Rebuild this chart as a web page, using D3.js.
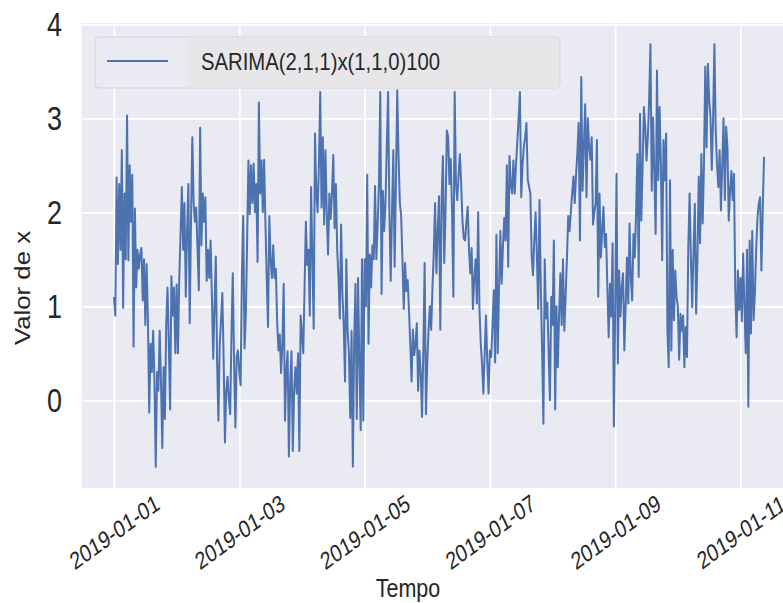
<!DOCTYPE html>
<html>
<head>
<meta charset="utf-8">
<script src="https://cdn.jsdelivr.net/npm/d3@7"></script>
<style>
  body { margin: 0; background: #ffffff; }
  svg text { font-family: "Liberation Sans", Arial, sans-serif; fill: #262626; }
</style>
</head>
<body>
<svg id="chart" width="783" height="603"></svg>
<script>
// Series: simulated SARIMA output sampled every 30 minutes from 2019-01-01 00:00
const seriesName = "SARIMA(2,1,1)x(1,1,0)100";
const startTime = "2019-01-01 00:00";
const stepMinutes = 30;
const values = [
  1.1, 0.9, 2.37, 1.45, 2.3, 1.6, 2.66, 0.98, 2.2, 1.5,
  3.03, 1.49, 2.5, 1.9, 2.4, 0.57, 2.04, 1.2, 1.6, 1.4,
  1.55, 1.62, 1.06, 1.5, 0.8, 1.45, 0.85, -0.13, 0.6, 0.3,
  0.74, 0.2, -0.71, 0.3, 0.1, 0.74, 0.2, -0.51, 0.35, -0.2,
  0.8, 1.2, 0.6, -0.1, 1.32, 0.9, 1.2, 0.5, 1.23, 0.5,
  1.3, 1.77, 2.27, 1.6, 2.1, 1.1, 1.8, 2.3, 0.82, 1.9,
  2.8, 2.1, 1.9, 2.05, 1.6, 1.17, 2.9, 1.65, 2.2, 1.9,
  2.16, 1.27, 1.6, 1.3, 1.7, 1.1, 0.44, 1.0, 1.53, 0.4,
  -0.22, 0.6, 0.85, 1.14, 0.44, -0.45, 0.1, 0.25, 0.0, -0.15,
  0.7, 1.35, 0.4, -0.29, 0.47, 0.53, 0.3, 0.16, 1.35, 1.96,
  0.55, 0.9, 1.7, 2.55, 1.98, 2.5, 2.1, 2.52, 2.0, 2.3,
  1.47, 3.17, 2.2, 2.55, 2.0, 2.56, 1.9, 1.3, 0.78, 1.96,
  1.5, 1.3, 1.65, 1.3, 1.4, 0.84, 0.53, 0.7, 0.29, 0.6,
  1.24, -0.22, 0.3, 0.52, -0.6, 0.2, 0.52, -0.54, 0.1, 0.35,
  0.07, 0.5, -0.54, 0.9, 0.7, 0.5, 1.2, 1.9, 1.44, 1.6,
  0.9, 2.27, 1.5, 0.76, 2.84, 2.2, 2.0, 2.5, 3.28, 2.05,
  2.8, 1.87, 2.66, 2.0, 1.55, 2.2, 1.93, 2.2, 2.61, 1.83,
  2.3, 1.6, 1.3, 0.87, 1.87, 1.13, 0.8, 0.2, 1.5, 0.74,
  0.5, -0.19, 0.74, -0.71, 0.6, 1.24, -0.2, 1.3, 0.4, -0.32,
  1.5, -0.22, 1.5, 1.0, 2.4, 0.6, 1.55, 1.2, 1.65, 1.5,
  2.28, 1.5, 1.87, 2.3, 3.28, 1.13, 2.23, 1.8, 2.1, 2.7,
  3.28, 2.0, 1.27, 2.0, 2.66, 1.42, 2.3, 3.3, 2.6, 2.1,
  1.96, 1.5, 0.97, 1.46, 1.16, 1.28, 0.96, 0.6, 0.2, 0.75,
  0.48, 0.6, 0.82, 0.1, 0.53, 0.3, -0.18, 0.53, 1.46, -0.15,
  0.4, 0.75, 1.0, 0.75, 1.2, 1.57, 2.1, 1.35, 1.8, 2.17,
  0.75, 2.13, 2.6, 1.46, 2.0, 2.87, 2.81, 2.3, 2.57, 2.0,
  1.1, 3.28, 2.3, 2.13, 2.4, 2.62, 2.3, 1.9, 1.72, 1.7,
  1.9, 2.06, 1.6, 1.35, 1.62, 0.97, 1.3, 1.5, 1.03, 2.0,
  0.97, 0.6, 0.38, 0.07, 0.5, 0.9, 0.4, 0.07, 0.53, 0.46,
  0.8, 1.17, 0.4, 1.76, 0.5, 1.2, 1.8, 1.24, 1.64, 1.94,
  1.7, 2.5, 1.42, 2.6, 2.3, 2.2, 2.55, 2.2, 2.5, 2.75,
  3.0, 3.28, 2.16, 2.5, 2.7, 2.8, 2.95, 2.35, 2.27, 2.2,
  1.54, 1.33, 1.7, 2.0, 1.54, 0.97, 2.13, 1.2, 0.53, -0.25,
  1.5, 0.87, 1.04, 0.5, 0.0, 1.1, 0.8, 1.7, -0.1, 1.0,
  0.35, 0.9, 1.35, 0.8, 1.5, 0.74, 1.1, 1.5, 1.96, 1.8,
  2.0, 2.2, 2.38, 2.1, 2.4, 2.63, 2.95, 1.7, 3.44, 2.23,
  2.7, 3.15, 2.16, 3.0, 2.7, 2.56, 2.8, 1.87, 2.0, 2.1,
  2.77, 1.1, 2.2, 1.52, 1.8, 2.06, 1.63, 1.77, 1.2, 0.67,
  1.24, 0.89, 1.67, -0.28, 1.0, 2.41, 0.39, 1.38, 0.89, 1.2,
  1.35, 0.53, 1.0, 1.52, 1.03, 1.88, 1.3, 1.06, 1.77, 1.52,
  2.0, 2.62, 1.31, 3.05, 1.91, 2.5, 3.12, 2.91, 2.55, 2.8,
  3.2, 3.79, 2.23, 3.01, 2.4, 1.77, 3.51, 2.34, 3.12, 2.5,
  1.49, 2.77, 2.34, 2.84, 0.74, 0.35, 2.34, 0.53, 1.6, 0.85,
  1.38, 1.1, 0.99, 0.43, 0.92, 0.74, 0.9, 0.35, 0.78, 0.46,
  1.63, 2.2, 1.5, 0.99, 1.6, 2.09, 0.92, 1.5, 2.38, 1.67,
  2.62, 1.88, 2.5, 3.55, 2.69, 3.58, 3.2, 3.01, 2.45, 3.0,
  3.79, 2.87, 2.5, 2.27, 2.66, 2.02, 2.5, 3.0, 2.13, 2.91,
  2.69, 1.91, 2.23, 2.44, 2.13, 2.41, 1.17, 0.67, 1.38, 0.96,
  1.3, 0.84, 1.56, 1.0, 0.5, 1.6, -0.07, 1.7, 0.71, 1.8,
  0.85, 1.13, 1.6, 1.95, 2.09, 2.16, 1.38, 2.0, 2.59
];

const yTicks = [0, 1, 2, 3, 4];
const xTickLabels = ["2019-01-01", "2019-01-03", "2019-01-05", "2019-01-07", "2019-01-09", "2019-01-11"];
const xAxisTitle = "Tempo";
const yAxisTitle = "Valor de x";

// ---- layout ----
const W = 783, H = 603;
const plot = { left: 81.5, right: 796.5, top: 23, bottom: 488 };
const lineColor = "#4C72B0";
const panelColor = "#EAEAF2";
const textStretch = 1.2;   // glyphs are drawn a little taller than wide

const svg = d3.select("#chart");

const parseStamp = d3.timeParse("%Y-%m-%d %H:%M");
const parseDay = d3.timeParse("%Y-%m-%d");
const t0 = parseStamp(startTime);
const data = values.map((v, i) => ({ t: d3.timeMinute.offset(t0, i * stepMinutes), v }));

// matplotlib-style 5% margins around the data
const tFirst = data[0].t, tLast = data[data.length - 1].t;
const tPad = (tLast - tFirst) * 0.05;
const x = d3.scaleTime()
  .domain([new Date(+tFirst - tPad), new Date(+tLast + tPad)])
  .range([plot.left, plot.right]);

const [vMin, vMax] = d3.extent(values);
const vPad = (vMax - vMin) * 0.05;
const y = d3.scaleLinear()
  .domain([vMin - vPad, vMax + vPad])
  .range([plot.bottom, plot.top]);

// panel background
svg.append("rect")
  .attr("x", plot.left).attr("y", plot.top)
  .attr("width", plot.right - plot.left).attr("height", plot.bottom - plot.top)
  .attr("fill", panelColor);

// y axis with white grid lines
const yAxis = svg.append("g")
  .attr("transform", `translate(${plot.left},0)`)
  .call(d3.axisLeft(y).tickValues(yTicks).tickFormat(d3.format("d"))
    .tickSize(-(plot.right - plot.left)).tickPadding(19.5));
yAxis.select(".domain").remove();
yAxis.selectAll(".tick line").attr("stroke", "#ffffff").attr("stroke-width", 1.8);
yAxis.selectAll(".tick text")
  .attr("x", 0).attr("dy", "0.35em")
  .attr("transform", `translate(-19.5,0) scale(1,${textStretch})`)
  .style("font-size", "27px").attr("fill", "#262626");

// x axis with white grid lines and rotated date labels
const xTickDates = xTickLabels.map(parseDay);
const xAxis = svg.append("g")
  .attr("transform", `translate(0,${plot.bottom})`)
  .call(d3.axisBottom(x).tickValues(xTickDates).tickFormat(d3.timeFormat("%Y-%m-%d"))
    .tickSize(-(plot.bottom - plot.top)));
xAxis.select(".domain").remove();
xAxis.selectAll(".tick line").attr("stroke", "#ffffff").attr("stroke-width", 1.8);
xAxis.selectAll(".tick text")
  .attr("y", 0).attr("dy", "0.35em")
  .attr("text-anchor", "middle")
  .attr("transform", `translate(0,44) scale(1,1.25) rotate(-30)`)
  .style("font-size", "19.5px").attr("fill", "#262626");

// the series
const line = d3.line().x(d => x(d.t)).y(d => y(d.v));
svg.append("path")
  .datum(data)
  .attr("d", line)
  .attr("fill", "none")
  .attr("stroke", lineColor)
  .attr("stroke-width", 2)
  .attr("stroke-linejoin", "round");

// legend
const legend = svg.append("g");
legend.append("rect")
  .attr("x", 95).attr("y", 37).attr("width", 465).attr("height", 51)
  .attr("rx", 4).attr("fill", "#EAEAF2").attr("stroke", "#D2D2D8").attr("stroke-width", 1);
legend.append("rect")
  .attr("x", 187).attr("y", 37.5).attr("width", 372).attr("height", 50)
  .attr("fill", "#E7E7E9");
legend.append("line")
  .attr("x1", 107).attr("x2", 168).attr("y1", 61).attr("y2", 61)
  .attr("stroke", lineColor).attr("stroke-width", 2);
legend.append("text")
  .attr("transform", `translate(201,61) scale(1,${textStretch})`)
  .attr("dy", "0.35em")
  .style("font-size", "20.3px")
  .text(seriesName);

// axis titles
svg.append("text")
  .attr("transform", `translate(408,597) scale(1,${textStretch})`)
  .attr("text-anchor", "middle")
  .style("font-size", "21.5px")
  .text(xAxisTitle);
svg.append("text")
  .attr("transform", `translate(30,288) scale(1,${textStretch}) rotate(-90)`)
  .attr("text-anchor", "middle")
  .style("font-size", "21.5px")
  .text(yAxisTitle);
</script>
</body>
</html>
